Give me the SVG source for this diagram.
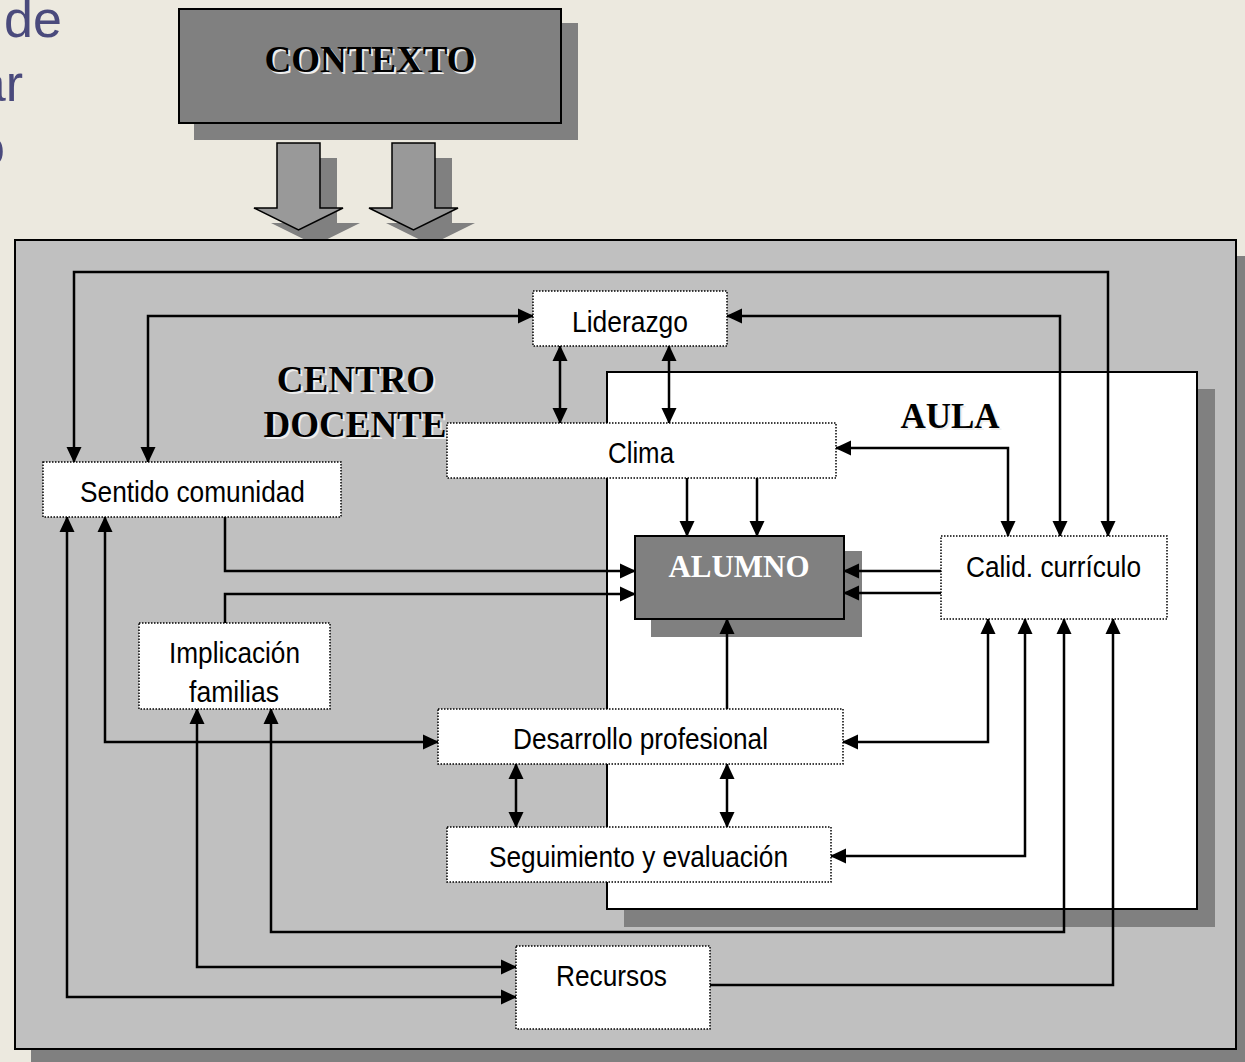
<svg xmlns="http://www.w3.org/2000/svg" width="1245" height="1062" viewBox="0 0 1245 1062">
<defs>
<marker id="ah" viewBox="0 0 16 16" refX="15" refY="8" markerWidth="16" markerHeight="16" markerUnits="userSpaceOnUse" orient="auto-start-reverse">
<path d="M0,0.5 L16,8 L0,15.5 z" fill="#000"/>
</marker>
<style>
.bg{fill:#ECE9DF}
.title{font-family:"Liberation Sans",Arial,sans-serif;font-size:52px;fill:#4A4A7C}
.shadow{fill:#808080}
.solid{stroke:#000;stroke-width:2}
.node{fill:#fff;stroke:#000;stroke-width:1.5;stroke-dasharray:1.5 1.5}
.lbl{font-family:"Liberation Sans Narrow","Arial Narrow","Liberation Sans",Arial,sans-serif;font-size:30px;fill:#000}
.big{font-family:"Liberation Serif","Times New Roman",serif;font-weight:bold;font-size:37px;text-anchor:middle}
.bigsh{fill:#EEEEEE}
.conn{fill:none;stroke:#000;stroke-width:2.5}
.blk{fill:#999999;stroke:#000;stroke-width:1.5}
</style>
</defs>
<rect class="bg" x="0" y="0" width="1245" height="1062"/>
<text class="title" x="4" y="37">de</text>
<text class="title" x="23" y="101" text-anchor="end">ar</text>
<text class="title" x="5" y="165" text-anchor="end">o</text>

<g id="contexto">
<rect class="shadow" x="194" y="23" width="384" height="117"/>
<rect class="solid" x="179" y="9" width="382" height="114" fill="#808080"/>
<text class="big bigsh" x="372" y="74">CONTEXTO</text>
<text class="big" x="370" y="72">CONTEXTO</text>
</g>

<g id="context-arrows">
<path class="shadow" d="M294,158 H337 V223 H360 L315.5,245 L271,223 H294 z"/>
<path class="shadow" d="M409,158 H452 V223 H475 L430.5,245 L386,223 H409 z"/>
<path class="blk" d="M277,143 H320 V208 H343 L298.5,230 L254,208 H277 z"/>
<path class="blk" d="M392,143 H435 V208 H458 L413.5,230 L369,208 H392 z"/>
</g>

<g id="centro-docente">
<rect class="shadow" x="31" y="256" width="1221" height="809"/>
<rect class="solid" x="15" y="240" width="1221" height="809" fill="#C0C0C0"/>
<text class="big bigsh" x="358" y="394">CENTRO</text>
<text class="big" x="356" y="392">CENTRO</text>
<text class="big bigsh" x="357" y="439">DOCENTE</text>
<text class="big" x="355" y="437">DOCENTE</text>
</g>

<g id="aula">
<rect class="shadow" x="624" y="389" width="591" height="538"/>
<rect class="solid" x="607" y="372" width="590" height="537" fill="#fff"/>
<text class="big bigsh" x="952" y="430" style="font-size:35px">AULA</text>
<text class="big" x="950" y="428" style="font-size:35px">AULA</text>
</g>

<g id="alumno">
<rect class="shadow" x="651" y="551" width="211" height="86"/>
<rect class="solid" x="635" y="536" width="209" height="83" fill="#808080"/>
<text x="739" y="577" text-anchor="middle" style="font-family:'Liberation Serif','Times New Roman',serif;font-weight:bold;font-size:31px;fill:#fff">ALUMNO</text>
</g>

<g id="connectors" class="conn">
<path d="M74,462 V272 H1108 V536" marker-start="url(#ah)" marker-end="url(#ah)"/>
<path d="M148,462 V316 H533" marker-start="url(#ah)" marker-end="url(#ah)"/>
<path d="M727,316 H1060 V536" marker-start="url(#ah)" marker-end="url(#ah)"/>
<path d="M560,346 V423" marker-start="url(#ah)" marker-end="url(#ah)"/>
<path d="M669,346 V423" marker-start="url(#ah)" marker-end="url(#ah)"/>
<path d="M836,448 H1008 V536" marker-start="url(#ah)" marker-end="url(#ah)"/>
<path d="M687,478 V536" marker-end="url(#ah)"/>
<path d="M757,478 V536" marker-end="url(#ah)"/>
<path d="M225,517 V571 H635" marker-end="url(#ah)"/>
<path d="M225,623 V594 H635" marker-end="url(#ah)"/>
<path d="M941,571 H844" marker-end="url(#ah)"/>
<path d="M941,593 H844" marker-end="url(#ah)"/>
<path d="M727,709 V619" marker-end="url(#ah)"/>
<path d="M105,517 V742 H438" marker-start="url(#ah)" marker-end="url(#ah)"/>
<path d="M67,517 V997 H516" marker-start="url(#ah)" marker-end="url(#ah)"/>
<path d="M197,709 V967 H516" marker-start="url(#ah)" marker-end="url(#ah)"/>
<path d="M271,709 V932 H1064 V619" marker-start="url(#ah)" marker-end="url(#ah)"/>
<path d="M710,985 H1113 V619" marker-end="url(#ah)"/>
<path d="M843,742 H988 V619" marker-start="url(#ah)" marker-end="url(#ah)"/>
<path d="M831,856 H1025 V619" marker-start="url(#ah)" marker-end="url(#ah)"/>
<path d="M516,764 V827" marker-start="url(#ah)" marker-end="url(#ah)"/>
<path d="M727,764 V827" marker-start="url(#ah)" marker-end="url(#ah)"/>
</g>

<g id="liderazgo">
<rect class="node" x="533" y="291" width="194" height="55"/>
<text class="lbl" x="572" y="332" textLength="116" lengthAdjust="spacingAndGlyphs">Liderazgo</text>
</g>
<g id="clima">
<rect class="node" x="447" y="423" width="389" height="55"/>
<text class="lbl" x="608" y="463" textLength="66" lengthAdjust="spacingAndGlyphs">Clima</text>
</g>
<g id="sentido-comunidad">
<rect class="node" x="43" y="462" width="298" height="55"/>
<text class="lbl" x="80" y="502" textLength="225" lengthAdjust="spacingAndGlyphs">Sentido comunidad</text>
</g>
<g id="calid-curriculo">
<rect class="node" x="941" y="536" width="226" height="83"/>
<text class="lbl" x="966" y="577" textLength="175" lengthAdjust="spacingAndGlyphs">Calid. currículo</text>
</g>
<g id="implicacion-familias">
<rect class="node" x="139" y="623" width="191" height="86"/>
<text class="lbl" x="169" y="663" textLength="131" lengthAdjust="spacingAndGlyphs">Implicación</text>
<text class="lbl" x="189" y="702" textLength="90" lengthAdjust="spacingAndGlyphs">familias</text>
</g>
<g id="desarrollo-profesional">
<rect class="node" x="438" y="709" width="405" height="55"/>
<text class="lbl" x="513" y="749" textLength="255" lengthAdjust="spacingAndGlyphs">Desarrollo profesional</text>
</g>
<g id="seguimiento-evaluacion">
<rect class="node" x="447" y="827" width="384" height="55"/>
<text class="lbl" x="489" y="867" textLength="299" lengthAdjust="spacingAndGlyphs">Seguimiento y evaluación</text>
</g>
<g id="recursos">
<rect class="node" x="516" y="946" width="194" height="83"/>
<text class="lbl" x="556" y="986" textLength="111" lengthAdjust="spacingAndGlyphs">Recursos</text>
</g>
</svg>
